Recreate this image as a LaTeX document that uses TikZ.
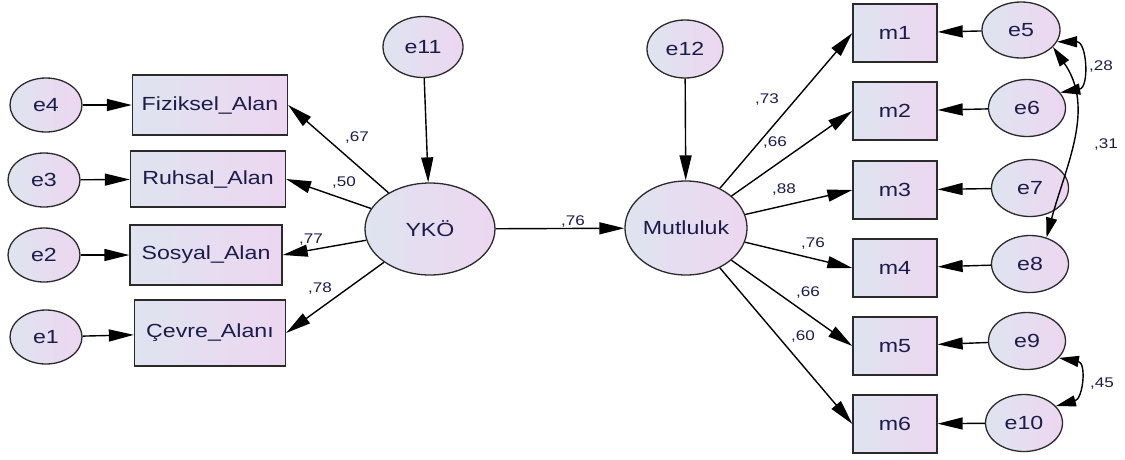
\documentclass[tikz,border=0pt]{standalone}
\usepackage{fontspec}
\setmainfont{Liberation Sans}[FakeStretch=1.22]
\usetikzlibrary{shapes.geometric,arrows.meta}
\definecolor{shA}{HTML}{DFE4EF}
\definecolor{shB}{HTML}{EDD6F1}
\definecolor{txt}{HTML}{1C1C4A}
\definecolor{edge}{HTML}{2A2A2A}
\tikzset{
  base/.style={draw=edge, line width=1.3pt, left color=shA, right color=shB,
    text=txt, font=\fontsize{19}{22}\selectfont, inner sep=0pt},
  lat/.style={base, ellipse},
  obs/.style={base, rectangle},
  tipx/.tip={Triangle[length=25pt,width=12pt]},
  tipc/.tip={Triangle[length=20pt,width=11pt]},
  arr/.style={line width=1.4pt, draw=black, -tipx},
  cov/.style={line width=1.4pt, draw=black, tipc-tipc},
  coef/.style={text=txt, font=\fontsize{14}{16}\selectfont, inner sep=0pt}
}
\begin{document}
\begin{tikzpicture}[x=1pt,y=1pt]
\useasboundingbox (0,0) rectangle (1125,-459);
% left error terms
\node[lat, minimum width=72pt, minimum height=54pt] (e4) at (46,-105) {e4};
\node[lat, minimum width=72pt, minimum height=54pt] (e3) at (44,-180) {e3};
\node[lat, minimum width=72pt, minimum height=54pt] (e2) at (44,-255) {e2};
\node[lat, minimum width=72pt, minimum height=54pt] (e1) at (46,-337) {e1};
% left indicators
\node[obs, minimum width=155pt, minimum height=60pt] (fiz) at (210,-105) {Fiziksel\_Alan};
\node[obs, minimum width=155pt, minimum height=56pt] (ruh) at (208,-179) {Ruhsal\_Alan};
\node[obs, minimum width=152pt, minimum height=60pt] (sos) at (206,-255) {Sosyal\_Alan};
\node[obs, minimum width=151pt, minimum height=66pt] (cev) at (210,-333) {Çevre\_Alanı};
% latent
\node[lat, minimum width=130pt, minimum height=92pt] (yko) at (430,-229) {YKÖ};
\node[lat, minimum width=80pt, minimum height=61pt] (e11) at (423,-47) {e11};
\node[lat, minimum width=122pt, minimum height=94pt] (mut) at (686,-228) {Mutluluk};
\node[lat, minimum width=76pt, minimum height=58pt] (e12) at (685,-49) {e12};
% right indicators
\foreach \i/\y in {1/33,2/111,3/190,4/268,5/346,6/424}
  \node[obs, minimum width=84pt, minimum height=58pt] (m\i) at (895,-\y) {m\i};
\node[lat, minimum width=78pt, minimum height=56pt] (e5) at (1021,-30) {e5};
\node[lat, minimum width=77pt, minimum height=57pt] (e6) at (1027,-108) {e6};
\node[lat, minimum width=77pt, minimum height=57pt] (e7) at (1030,-188) {e7};
\node[lat, minimum width=77pt, minimum height=57pt] (e8) at (1030,-264) {e8};
\node[lat, minimum width=77pt, minimum height=57pt] (e9) at (1027,-341) {e9};
\node[lat, minimum width=77pt, minimum height=57pt] (e10) at (1024,-423) {e10};
% error arrows left
\draw[arr] (e4) -- (fiz);
\draw[arr] (e3) -- (ruh);
\draw[arr] (e2) -- (sos);
\draw[arr] (e1) -- (cev);
% loadings YKO
\draw[arr] (yko) -- (fiz.east);
\draw[arr] (yko) -- (ruh.east);
\draw[arr] (yko) -- (sos.east);
\draw[arr] (yko) -- (cev.east);
\draw[arr] (e11) -- (yko);
\draw[arr] (e12) -- (mut);
\draw[arr] (yko) -- (mut);
% loadings Mutluluk
\foreach \i in {1,...,6} \draw[arr] (mut) -- (m\i.west);
% error arrows right
\draw[arr] (e5) -- (m1);
\draw[arr] (e6) -- (m2);
\draw[arr] (e7) -- (m3);
\draw[arr] (e8) -- (m4);
\draw[arr] (e9) -- (m5);
\draw[arr] (e10) -- (m6);
% covariances
\draw[cov] (e5.-18) to[out=0,in=10,looseness=1.5] (e6.25);
\draw[cov] (e5.-28) to[out=-55,in=75] (e8.58);
\draw[cov] (e9.-28) to[out=-10,in=15,looseness=1.5] (e10.28);
% coefficients
\node[coef] (c1) at (357,-138) {,67};
\node[coef] (c2) at (344,-183) {,50};
\node[coef] (c3) at (311,-240) {,77};
\node[coef] (c4) at (320,-288) {,78};
\node[coef] (c5) at (573,-222) {,76};
\node[coef] (c6) at (767,-100) {,73};
\node[coef] (c7) at (775,-143) {,66};
\node[coef] (c8) at (784,-190) {,88};
\node[coef] (c9) at (813,-244) {,76};
\node[coef] (c10) at (808,-292) {,66};
\node[coef] (c11) at (803,-336) {,60};
\node[coef] (c12) at (1101,-67) {,28};
\node[coef] (c13) at (1106,-145) {,31};
\node[coef] (c14) at (1102,-384) {,45};
\end{tikzpicture}
\end{document}
